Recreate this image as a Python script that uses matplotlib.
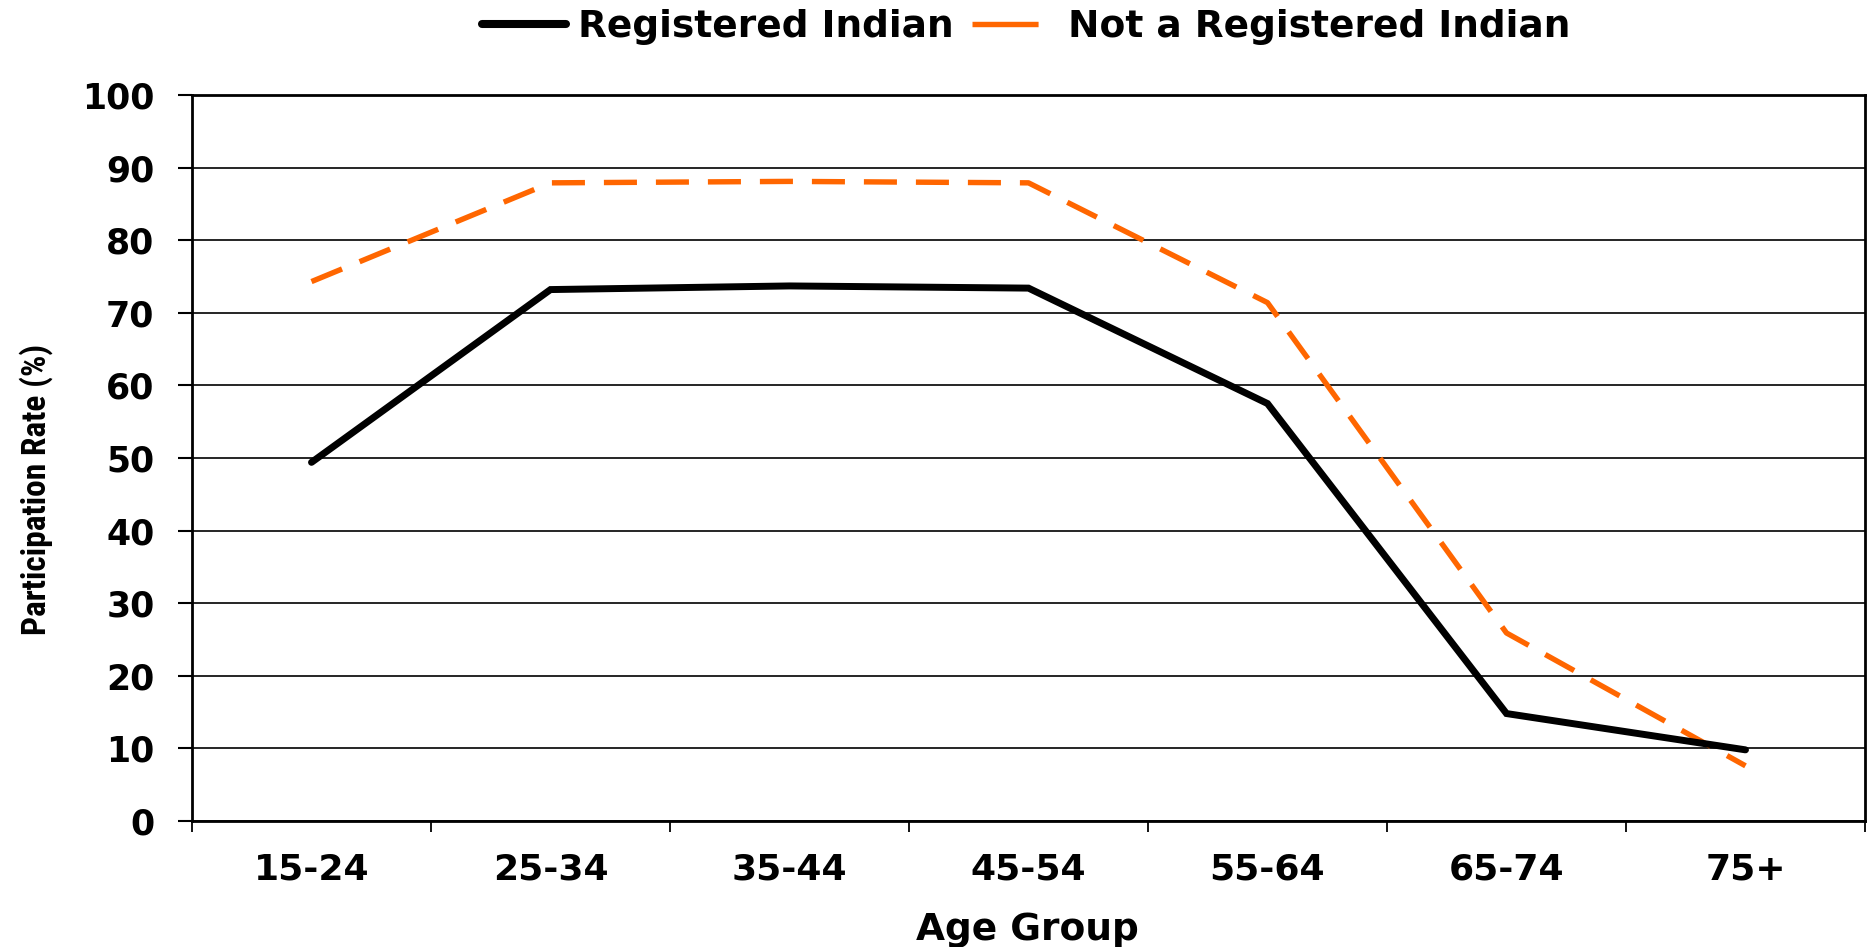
import matplotlib
matplotlib.use("Agg")
import matplotlib.pyplot as plt
from matplotlib.lines import Line2D
from matplotlib import font_manager

# ---- data ----
age_groups = ["15-24", "25-34", "35-44", "45-54", "55-64", "65-74", "75+"]
registered = [49.4, 73.2, 73.7, 73.4, 57.5, 14.8, 9.8]
not_registered = [74.3, 87.9, 88.1, 87.9, 71.4, 25.9, 7.6]
series_labels = ["Registered Indian", "Not a Registered Indian"]
yticks = [0, 10, 20, 30, 40, 50, 60, 70, 80, 90, 100]

ORANGE = "#FF6600"
W, H = 1871, 947

# pick a condensed family for the rotated axis title if one is installed
available = {f.name for f in font_manager.fontManager.ttflist}
narrow = None
for cand in ["Liberation Sans Narrow", "Roboto Condensed", "Open Sans Condensed",
             "Noto Sans Condensed", "DejaVu Sans Condensed"]:
    if cand in available:
        narrow = cand
        break
ylab_family = [narrow, "Liberation Sans", "DejaVu Sans"] if narrow else ["Liberation Sans", "DejaVu Sans"]
ylab_size = 24 if narrow in ("Liberation Sans Narrow", "Roboto Condensed") else 21

fig = plt.figure(figsize=(W / 100, H / 100), dpi=100)
ax = fig.add_axes([192 / W, 1 - 821 / H, (1865 - 192) / W, (821 - 95) / H])

xpos = [i + 0.5 for i in range(len(age_groups))]
ax.plot(xpos, registered, color="black", lw=5.0, solid_joinstyle="miter",
        solid_capstyle="round", zorder=4)
ax.plot(xpos, not_registered, color=ORANGE, lw=3.9, dashes=(6.1, 3.5),
        dash_capstyle="butt", zorder=3)

ax.set_xlim(0, len(age_groups))
ax.set_ylim(0, 100)
ax.set_yticks(yticks)
ax.set_yticklabels([str(v) for v in yticks])

# category boundaries as ticks, labels at centers
ax.set_xticks(range(len(age_groups) + 1))
ax.set_xticklabels([""] * (len(age_groups) + 1))
ax.set_xticks(xpos, minor=True)
ax.set_xticklabels(age_groups, minor=True)
ax.tick_params(axis="x", which="major", direction="out", length=8, width=1.3, color="black")
ax.tick_params(axis="x", which="minor", length=0, pad=23)
ax.tick_params(axis="y", direction="out", length=10, width=1.5, pad=17)

for lab in ax.get_xticklabels(minor=True):
    lab.set_fontfamily("DejaVu Sans")
    lab.set_fontweight("bold")
    lab.set_fontsize(26)
for lab in ax.get_yticklabels():
    lab.set_fontfamily("DejaVu Sans")
    lab.set_fontweight("bold")
    lab.set_fontsize(25)

ax.grid(axis="y", color="black", lw=1.2)
ax.set_axisbelow(True)
for s in ax.spines.values():
    s.set_linewidth(2)
    s.set_color("black")

fig.text(1027 / W, 1 - 940 / H, "Age Group", ha="center", va="baseline",
         fontsize=27, fontweight="bold", family="DejaVu Sans")
fig.text(36 / W, 1 - 489 / H, "Participation Rate (%)", rotation=90,
         ha="center", va="center", fontsize=ylab_size, fontweight="bold",
         family=ylab_family)

handles = [
    Line2D([], [], color="black", lw=5.8, solid_capstyle="round"),
    Line2D([], [], color=ORANGE, lw=3.9, dashes=(12.2, 6), dash_capstyle="butt"),
]
fig.legend(handles, series_labels, loc="center", bbox_to_anchor=(1026 / W, 1 - 27 / H),
           ncol=2, frameon=False, handlelength=2.24, handletextpad=0.32,
           columnspacing=0.48, borderaxespad=0, borderpad=0,
           prop={"family": "DejaVu Sans", "weight": "bold", "size": 27})

fig.savefig("out.png", dpi=100)
